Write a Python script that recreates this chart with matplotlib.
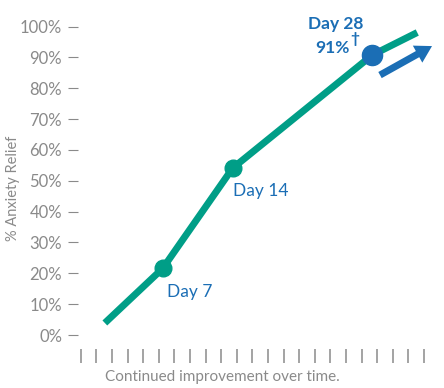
import numpy as np
import matplotlib
matplotlib.use("Agg")
import matplotlib.pyplot as plt

plt.rcParams['font.family'] = ['Lato', 'DejaVu Sans']

# data (x in days, y in % anxiety relief)
days = [1.2, 7, 14, 28, 32.5]
relief = [3.9, 21.6, 54.1, 90.8, 98.1]
marked_days = [7, 14]
marked_relief = [21.6, 54.1]
final_day = 28
final_relief = 90.8
yticks = np.arange(0, 101, 10)
ytick_labels = ['%d%%' % v for v in yticks]

teal = '#009E87'
blue = '#1B6EB5'
gray = '#8A8A8A'

W, H = 444, 388
fig = plt.figure(figsize=(W / 100, H / 100), dpi=100)
ax = fig.add_axes([78 / W, (H - 349) / H, (440 - 78) / W, (349 - 10) / H])

ax.plot(days, relief, color=teal, lw=5, solid_capstyle='butt', zorder=2)
ax.plot(marked_days, marked_relief, 'o', color=teal, ms=12, zorder=3)
ax.plot([final_day], [final_relief], 'o', color=blue, ms=14.5, zorder=4)

ax.set_xlim(-1.49, 34.78)
ax.set_ylim(-4.54, 105.4)

for s in ax.spines.values():
    s.set_visible(False)

ax.set_yticks(yticks)
ax.set_yticklabels(ytick_labels)
ax.set_xticks(np.linspace(-1.22, 33.18, 23))
ax.set_xticklabels([])
ax.tick_params(axis='y', length=7.2, width=0.8, color=gray, labelcolor=gray,
               labelsize=12, pad=4.3)
ax.tick_params(axis='x', length=10, width=1.1, color=gray, direction='out')

# point labels
ax.annotate('Day 7', (7, 21.6), xytext=(19.5, -16.7), textcoords='offset points',
            ha='center', va='center', color=blue, fontsize=12.5)
ax.annotate('Day 14', (14, 54.1), xytext=(0, -16.5), textcoords='offset points',
            ha='left', va='center', color=blue, fontsize=12.5)
ax.annotate('Day 28', (final_day, final_relief), xytext=(-6.7, 18.7),
            textcoords='offset points', ha='right', va='baseline',
            color=blue, fontsize=12.5, fontweight='bold')
ax.annotate('91%', (final_day, final_relief), xytext=(-16, 1.4),
            textcoords='offset points', ha='right', va='baseline',
            color=blue, fontsize=12.5, fontweight='bold')
ax.annotate('\u2020', (final_day, final_relief), xytext=(-16, 16.5),
            textcoords='offset points', ha='left', va='top',
            color=blue, fontsize=11, fontweight='bold')

# trend arrow
ax.annotate('', xy=(33.98, 93.7), xytext=(28.77, 84.3),
            arrowprops=dict(arrowstyle='simple,tail_width=0.36,head_width=1.0,head_length=0.85',
                            mutation_scale=14, color=blue, lw=0, shrinkA=0, shrinkB=0))

fig.text(222 / W, 1 - 377 / H, 'Continued improvement over time.', ha='center', va='center',
         color=gray, fontsize=11)
fig.text(13 / W, 1 - 188 / H, '% Anxiety Relief', rotation=90, ha='center', va='center',
         color=gray, fontsize=10.5)

fig.savefig('out.png', dpi=100)
